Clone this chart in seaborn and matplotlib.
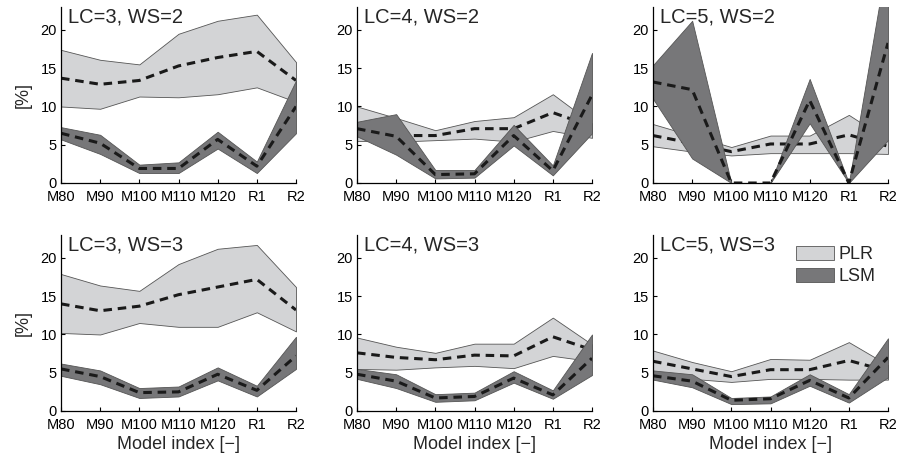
import matplotlib
matplotlib.use("Agg")
import matplotlib.pyplot as plt
import seaborn as sns
import pandas as pd
import numpy as np
from matplotlib.patches import Patch

models = ["M80", "M90", "M100", "M110", "M120", "R1", "R2"]
titles = ["LC=3, WS=2", "LC=4, WS=2", "LC=5, WS=2",
          "LC=3, WS=3", "LC=4, WS=3", "LC=5, WS=3"]

# Panel 1: LC=3, WS=2
p1_plr_hi = [17.4, 16.1, 15.5, 19.5, 21.2, 22.0, 15.8]
p1_plr_lo = [10.0, 9.7, 11.3, 11.2, 11.6, 12.5, 10.6]
p1_plr_mean = [13.7, 12.9, 13.4, 15.3, 16.4, 17.2, 13.4]
p1_lsm_hi = [7.3, 6.3, 2.4, 2.7, 6.7, 2.8, 13.4]
p1_lsm_lo = [5.7, 3.8, 1.3, 1.3, 4.5, 1.3, 6.5]
p1_lsm_mean = [6.5, 5.2, 1.9, 1.9, 5.7, 2.2, 10.0]

# Panel 2: LC=4, WS=2
p2_plr_hi = [10.0, 8.5, 6.9, 8.1, 8.6, 11.6, 7.8]
p2_plr_lo = [5.5, 5.4, 5.6, 5.8, 5.4, 6.8, 5.9]
p2_plr_mean = [7.1, 6.2, 6.2, 7.1, 7.1, 9.2, 7.4]
p2_lsm_hi = [8.0, 9.0, 1.7, 1.7, 7.6, 2.3, 17.0]
p2_lsm_lo = [6.1, 3.7, 0.6, 0.7, 4.9, 1.0, 6.5]
p2_lsm_mean = [7.1, 6.1, 1.1, 1.2, 6.2, 1.6, 11.5]

# Panel 3: LC=5, WS=2
p3_plr_hi = [7.7, 6.2, 4.7, 6.2, 6.2, 8.9, 5.6]
p3_plr_lo = [4.8, 4.1, 3.6, 3.9, 3.9, 3.9, 3.8]
p3_plr_mean = [6.2, 5.2, 4.1, 5.1, 5.1, 6.3, 4.8]
p3_lsm_hi = [15.4, 21.2, 0.0, 0.0, 13.6, 0.0, 30.0]
p3_lsm_lo = [11.0, 3.2, 0.0, 0.0, 7.8, 0.0, 5.6]
p3_lsm_mean = [13.2, 12.2, 0.0, 0.0, 10.8, 0.0, 18.3]

# Panel 4: LC=3, WS=3
p4_plr_hi = [17.9, 16.4, 15.7, 19.2, 21.2, 21.7, 16.2]
p4_plr_lo = [10.2, 10.0, 11.5, 11.0, 11.0, 12.9, 10.4]
p4_plr_mean = [14.0, 13.1, 13.7, 15.2, 16.2, 17.2, 13.2]
p4_lsm_hi = [6.2, 5.3, 3.0, 3.2, 5.7, 3.3, 9.7]
p4_lsm_lo = [4.6, 3.5, 1.7, 1.9, 4.0, 1.9, 5.5]
p4_lsm_mean = [5.5, 4.5, 2.4, 2.5, 4.8, 2.7, 7.2]

# Panel 5: LC=4, WS=3
p5_plr_hi = [9.6, 8.4, 7.6, 8.8, 8.8, 12.2, 8.7]
p5_plr_lo = [5.5, 5.4, 5.7, 5.9, 5.6, 7.2, 6.5]
p5_plr_mean = [7.6, 7.0, 6.7, 7.3, 7.2, 9.7, 8.0]
p5_lsm_hi = [5.5, 4.8, 2.2, 2.4, 5.2, 2.7, 10.0]
p5_lsm_lo = [4.2, 3.0, 1.2, 1.4, 3.7, 1.6, 4.7]
p5_lsm_mean = [4.8, 3.9, 1.7, 1.9, 4.3, 2.1, 6.9]

# Panel 6: LC=5, WS=3
p6_plr_hi = [7.9, 6.4, 5.2, 6.8, 6.7, 9.0, 6.0]
p6_plr_lo = [5.0, 4.2, 3.8, 4.2, 4.2, 4.1, 4.1]
p6_plr_mean = [6.5, 5.5, 4.5, 5.4, 5.4, 6.6, 5.2]
p6_lsm_hi = [5.3, 4.8, 1.7, 1.9, 4.8, 2.2, 9.5]
p6_lsm_lo = [4.1, 3.1, 0.9, 1.0, 3.3, 1.1, 4.4]
p6_lsm_mean = [4.6, 3.9, 1.4, 1.6, 4.0, 1.7, 7.0]

panels = [
    (p1_plr_hi, p1_plr_lo, p1_plr_mean, p1_lsm_hi, p1_lsm_lo, p1_lsm_mean),
    (p2_plr_hi, p2_plr_lo, p2_plr_mean, p2_lsm_hi, p2_lsm_lo, p2_lsm_mean),
    (p3_plr_hi, p3_plr_lo, p3_plr_mean, p3_lsm_hi, p3_lsm_lo, p3_lsm_mean),
    (p4_plr_hi, p4_plr_lo, p4_plr_mean, p4_lsm_hi, p4_lsm_lo, p4_lsm_mean),
    (p5_plr_hi, p5_plr_lo, p5_plr_mean, p5_lsm_hi, p5_lsm_lo, p5_lsm_mean),
    (p6_plr_hi, p6_plr_lo, p6_plr_mean, p6_lsm_hi, p6_lsm_lo, p6_lsm_mean),
]

sns.set_style("ticks")
plt.rcParams["font.family"] = ["Liberation Sans", "DejaVu Sans"]

LIGHT = "#d3d4d6"
DARK = "#777779"
EDGE = "#555555"

W, H = 898, 457
fig = plt.figure(figsize=(W / 100, H / 100), dpi=100)

lefts = [61, 357, 653]
width = 235
tops = [7, 235]
height = 176

x = np.arange(len(models))
for i, pdata in enumerate(panels):
    r, c = divmod(i, 3)
    ax = fig.add_axes([lefts[c] / W, 1 - (tops[r] + height) / H, width / W, height / H])
    plr_hi, plr_lo, plr_mean, lsm_hi, lsm_lo, lsm_mean = pdata
    # PLR band + mean first, then LSM band + mean on top
    ax.fill_between(x, plr_lo, plr_hi, facecolor=LIGHT, edgecolor=EDGE, linewidth=0.6, zorder=1)
    dplr = pd.DataFrame({"x": x, "v": plr_mean})
    sns.lineplot(data=dplr, x="x", y="v", ax=ax, color="#1a1a1a",
                 linewidth=2.2, linestyle=(0, (2.8, 1.9)), zorder=2, legend=False)
    ax.fill_between(x, lsm_lo, lsm_hi, facecolor=DARK, edgecolor=EDGE, linewidth=0.6, zorder=3)
    dlsm = pd.DataFrame({"x": x, "v": lsm_mean})
    sns.lineplot(data=dlsm, x="x", y="v", ax=ax, color="#1a1a1a",
                 linewidth=2.2, linestyle=(0, (2.8, 1.9)), zorder=4, legend=False)
    ax.set_xlim(0, len(models) - 1)
    ax.set_ylim(0, 23)
    ax.set_xticks(x)
    ax.set_xticklabels(models)
    ax.set_yticks([0, 5, 10, 15, 20])
    ax.tick_params(direction="in", length=3, width=0.8, labelsize=10.5, pad=3, colors="black")
    ax.tick_params(axis="x", pad=5)
    for s in ["top", "right"]:
        ax.spines[s].set_visible(False)
    for s in ["left", "bottom"]:
        ax.spines[s].set_color("black")
        ax.spines[s].set_linewidth(0.9)
        ax.spines[s].set_zorder(5)
    ax.set_xlabel("Model index [\u2212]" if r == 1 else "", fontsize=13, labelpad=3)
    ax.set_ylabel("[%]" if c == 0 else "", fontsize=13, labelpad=6)
    ax.text(0.03, 0.995, titles[i], transform=ax.transAxes, ha="left", va="top",
            fontsize=14.5, zorder=6)
    ax.set_facecolor("white")
    if i == 5:
        handles = [Patch(facecolor=LIGHT, edgecolor=EDGE, linewidth=0.6, label="PLR"),
                   Patch(facecolor=DARK, edgecolor=EDGE, linewidth=0.6, label="LSM")]
        ax.legend(handles=handles, loc="upper left",
                  bbox_to_anchor=(796 / W, 1 - 246 / H), bbox_transform=fig.transFigure,
                  frameon=False, fontsize=13, handlelength=2.1, handleheight=0.85,
                  handletextpad=0.25, borderpad=0, borderaxespad=0, labelspacing=0.25)

fig.savefig("out.png", dpi=100)
